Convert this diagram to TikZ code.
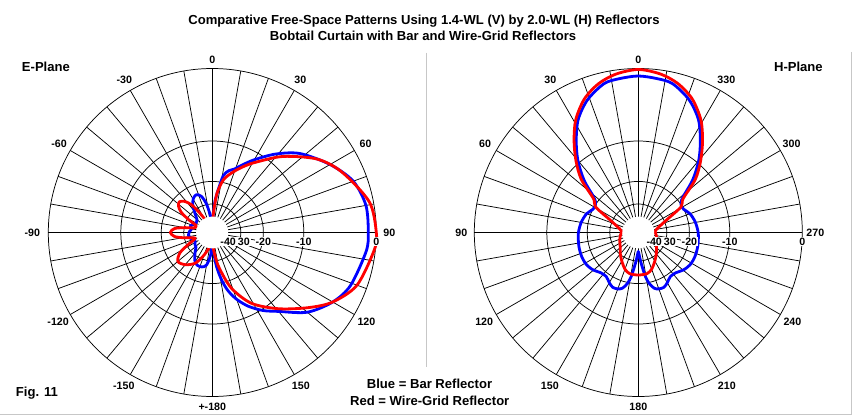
\documentclass[tikz,border=0pt]{standalone}
\usepackage{fontspec}
\setmainfont{Liberation Sans}

\begin{document}
\begin{tikzpicture}[x=0.75pt,y=0.75pt]
\tikzstyle{grid}=[black,line width=0.55pt]
\tikzstyle{bar}=[blue,line width=2.1pt,line join=round]
\tikzstyle{wire}=[red,line width=2.1pt,line join=round]
\tikzstyle{deg}=[font=\bfseries\fontsize{8}{9}\selectfont,inner sep=0pt]
\tikzstyle{db}=[deg,fill=white,inner sep=0.5pt,yshift=-6.9pt]
\tikzstyle{big}=[font=\bfseries\fontsize{9.8}{11}\selectfont,inner sep=0pt]
% angles run clockwise from the top inside a compass scope
\tikzstyle{compass}=[x={(0pt,0.75pt)},y={(0.75pt,0pt)}]

\useasboundingbox (0,0) rectangle (852,415);

\node[big] (title1) at (424,394.3) {Comparative Free-Space Patterns Using 1.4-WL (V) by 2.0-WL (H) Reflectors};
\node[big] (title2) at (423,379) {Bobtail Curtain with Bar and Wire-Grid Reflectors};
\node[big,anchor=west] (eplane) at (21.7,348) {E-Plane};
\node[big,anchor=east] (hplane) at (823,348.3) {H-Plane};
\node[big,anchor=west] (fig) at (15.7,21.7) {Fig. 11};
\node[big] (leg1) at (429.5,31) {Blue = Bar Reflector};
\node[big] (leg2) at (429.7,14.3) {Red = Wire-Grid Reflector};

\draw[black!22,line width=0.75pt] (426,362.3) -- (426,48);
\draw[black!22,line width=0.75pt] (851,363) -- (851,1) -- (0,1);

% E-plane
\begin{scope}[shift={(212.3,182.5)},compass]
\foreach \a in {0,10,...,350} \draw[grid] (\a:15.9) -- (\a:164);
\foreach \r in {28.5,51.1,91.5,164} \draw[grid] (0,0) circle (\r);
\draw[bar] plot[smooth cycle] coordinates {(0:6) (3:20) (5:32) (8:44) (11:58) (15:64) (19:67) (24:74) (30:84) (39:101) (48:118) (60:136) (70:150) (80:156) (90:156) (97:155) (111:148) (120:139) (130:124) (140:103) (147:93) (154:82) (160:71) (165:60) (169:48) (173:34) (176:20) (180:10) (184:22) (190:33) (197:36) (205:36) (212:33) (220:27) (228:22) (236:21) (246:19) (256:23) (264:24) (272:23) (280:21) (286:23) (293:21) (300:19) (310:20) (318:26) (325:34) (331:39) (337:41) (343:38) (348:30) (352:20) (356:10)};
\draw[wire] plot[smooth cycle] coordinates {(0:6) (3:18) (5:28) (7:40) (12:54) (19:64) (26:74) (32:83) (43:104) (55:128) (65:143) (79:160) (90:164) (96:163) (110:154) (120:139) (128:122) (139:101) (151:81) (161:59) (169:36) (174:22) (178:12) (182:8) (190:14) (200:24) (209:35) (220:42) (230:45) (238:38) (244:26) (248:20) (252:18) (256:22) (260:30) (264:38) (270:42) (276:38) (280:28) (284:19) (289:17) (294:18) (298:26) (303:37) (308:43) (313:45) (318:42) (323:35) (327:24) (331:15) (340:9) (352:6)};
\fill[white] (0,0) circle (15.9);
\foreach \r/\t [count=\i] in {164/0,91.5/-10,51.1/-20,31.6/30,15.9/-40}
  \node[db] (edb\i) at (90:\r) {\t};
\foreach \a/\r/\t in {0/172.5/0,30/176/30,60/177/60,90/177/90,120/178/120,150/177/150,180/174.5/+-180,210/177/-150,240/178/-120,270/180/-90,300/177/-60,330/176/-30}
  \node[deg] (eang\a) at (\a:\r) {\t};
\end{scope}

% H-plane
\begin{scope}[shift={(638.3,182.5)},compass]
\foreach \a in {0,10,...,350} \draw[grid] (\a:15.9) -- (\a:164);
\foreach \r in {28.5,51.1,91.5,164} \draw[grid] (0,0) circle (\r);
\draw[bar] plot[smooth cycle] coordinates {(0:156.5) (7:155) (13:152.7) (21:142) (28:128) (34:111) (40:94) (46:75.5) (52:56) (57:51) (63:51) (70:55) (80:58) (91:60) (103:61) (113:61.5) (122:61) (130:58.5) (137:55) (144:54.5) (150:58) (155:60.5) (160:60) (164:58) (168:52) (171:44) (175:30) (178:22) (180:19) (182:22) (185:30) (189:44) (192:52) (196:58) (200:60) (205:60.5) (210:58) (216:54.5) (223:55) (230:58.5) (238:61) (247:61.5) (257:61) (269:60) (280:58) (290:55) (297:51) (303:51) (308:56) (314:75.5) (320:94) (326:111) (332:128) (339:142) (347:152.7) (353:155)};
\draw[wire] plot[smooth cycle] coordinates {(0:163) (8:160) (15:154) (22:144) (29:129) (35:112) (41:95) (47:78) (53:56) (59:50) (66:31) (74:22) (85:17) (98:18) (112:20) (128:23) (140:28) (150:33) (160:39) (168:42) (180:42.5) (192:42) (200:39) (210:33) (220:28) (232:23) (248:20) (262:18) (275:17) (286:22) (294:31) (301:50) (307:56) (313:78) (319:95) (325:112) (331:129) (338:144) (345:154) (352:160)};
\fill[white] (0,0) circle (15.9);
\foreach \r/\t [count=\i] in {164/0,91.5/-10,51.1/-20,31.6/30,15.9/-40}
  \node[db] (hdb\i) at (90:\r) {\t};
\foreach \a/\r/\t in {0/172.5/0,30/176/330,60/177/300,90/177/270,120/178/240,150/177/210,180/174.5/180,210/177/150,240/178/120,270/177/90,300/177/60,330/176/30}
  \node[deg] (hang\a) at (\a:\r) {\t};
\end{scope}
\end{tikzpicture}
\end{document}
